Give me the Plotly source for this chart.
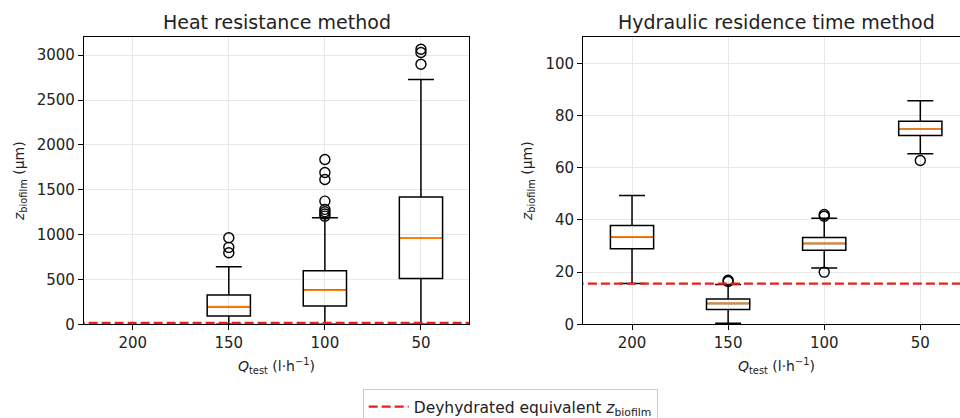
import plotly.graph_objects as go

# ---------------- data ----------------
Q_labels = ["200", "150", "100", "50"]
positions = [1, 2, 3, 4]

# Heat resistance method (µm); Q=200 has no data
heat_q1 = [None, 93, 204, 512]
heat_median = [None, 197, 382, 962]
heat_q3 = [None, 327, 598, 1418]
heat_lower = [None, 0, 0, 0]
heat_upper = [None, 642, 1188, 2729]
heat_outliers = [
    [],
    [965, 858, 798],
    [1838, 1693, 1615, 1373, 1281, 1254, 1229, 1206],
    [3067, 3030, 2900],
]

# Hydraulic residence time method (µm)
hrt_q1 = [29.0, 5.7, 28.4, 72.4]
hrt_median = [33.5, 8.0, 31.0, 74.8]
hrt_q3 = [37.9, 9.7, 33.3, 77.8]
hrt_lower = [15.6, 0.4, 21.6, 65.4]
hrt_upper = [49.4, 15.3, 40.6, 85.7]
hrt_outliers = [
    [],
    [16.9, 16.4],
    [42.1, 41.4, 20.0],
    [62.8],
]

dehydrated_z = 15.6

# ---------------- styling ----------------
FONT = "DejaVu Sans"
BOX_W = 0.45
W, H = 960, 418

def px_x(p):
    return p / W

def px_y(p):
    return 1 - p / H

fig = go.Figure()

def add_boxes(q1, med, q3, lo, hi, outs, xa, ya):
    for i, pos in enumerate(positions):
        if q1[i] is None:
            continue
        fig.add_trace(go.Box(
            x=[pos], q1=[q1[i]], median=[med[i]], q3=[q3[i]],
            lowerfence=[lo[i]], upperfence=[hi[i]],
            width=BOX_W, whiskerwidth=0.6,
            line=dict(color="black", width=1.5),
            fillcolor="rgba(0,0,0,0)", boxpoints=False,
            showlegend=False, hoverinfo="skip", xaxis=xa, yaxis=ya,
        ))
        fig.add_trace(go.Scatter(
            x=[pos - BOX_W / 2 + 0.01, pos + BOX_W / 2 - 0.01],
            y=[med[i], med[i]], mode="lines",
            line=dict(color="#ff7f0e", width=1.8),
            showlegend=False, hoverinfo="skip", xaxis=xa, yaxis=ya,
        ))
        if outs[i]:
            fig.add_trace(go.Scatter(
                x=[pos] * len(outs[i]), y=outs[i], mode="markers",
                marker=dict(symbol="circle-open", size=10, color="black",
                            line=dict(width=1.4, color="black")),
                showlegend=False, hoverinfo="skip", xaxis=xa, yaxis=ya,
            ))

add_boxes(heat_q1, heat_median, heat_q3, heat_lower, heat_upper, heat_outliers, "x", "y")
add_boxes(hrt_q1, hrt_median, hrt_q3, hrt_lower, hrt_upper, hrt_outliers, "x2", "y2")

dash = "9px,4px"
fig.add_trace(go.Scatter(
    x=[0, 5], y=[dehydrated_z, dehydrated_z], mode="lines",
    line=dict(color="#ee1c1c", width=2.4, dash=dash),
    name="Deyhydrated equivalent <i>z</i><sub>biofilm</sub>",
    showlegend=True, hoverinfo="skip", xaxis="x", yaxis="y",
))
fig.add_trace(go.Scatter(
    x=[0, 5], y=[dehydrated_z, dehydrated_z], mode="lines",
    line=dict(color="#ee1c1c", width=2.4, dash=dash),
    showlegend=False, hoverinfo="skip", xaxis="x2", yaxis="y2",
))

axis_common = dict(
    showline=True, linecolor="black", linewidth=1.3,
    ticks="outside", ticklen=5, tickwidth=1.2, tickcolor="black",
    showgrid=True, gridcolor="#e8e8e8", gridwidth=1,
    zeroline=False, tickfont=dict(family=FONT, size=15, color="#222222"),
)

y_dom = [px_y(324.3), px_y(37.3)]

fig.update_layout(
    width=W, height=H, margin=dict(l=0, r=0, t=0, b=0, autoexpand=False),
    paper_bgcolor="white", plot_bgcolor="white",
    font=dict(family=FONT, color="#222222"),
    xaxis=dict(domain=[px_x(84), px_x(469)], range=[0.493, 4.5],
               tickvals=positions, ticktext=Q_labels, mirror=True,
               anchor="y", **axis_common),
    yaxis=dict(domain=y_dom, range=[0, 3200], tickvals=[0, 500, 1000, 1500, 2000, 2500, 3000],
               mirror=True, anchor="x", **axis_common),
    xaxis2=dict(domain=[px_x(583.3), 1.0], range=[0.493, 4.413],
                tickvals=positions, ticktext=Q_labels, mirror=True,
                anchor="y2", **axis_common),
    yaxis2=dict(domain=y_dom, range=[0, 110], tickvals=[0, 20, 40, 60, 80, 100],
                mirror=False, anchor="x2", **axis_common),
    showlegend=True,
    legend=dict(x=px_x(362.7), y=px_y(389), xanchor="left", yanchor="top",
                bordercolor="#cccccc", borderwidth=1, bgcolor="white",
                font=dict(family=FONT, size=15.5, color="#222222"),
                itemwidth=40),
)

ann = []
ann.append(dict(text="Heat resistance method", x=px_x(276.5), y=px_y(21.5),
                xref="paper", yref="paper", showarrow=False, xanchor="center", yanchor="middle",
                font=dict(family=FONT, size=19, color="#222222")))
ann.append(dict(text="Hydraulic residence time method", x=px_x(776), y=px_y(21.5),
                xref="paper", yref="paper", showarrow=False, xanchor="center", yanchor="middle",
                font=dict(family=FONT, size=19, color="#222222")))
xlab = "<i>Q</i><sub>test</sub> (l·h<sup>−1</sup>)"
for cx in (276.5, 776.5):
    ann.append(dict(text=xlab, x=px_x(cx), y=px_y(366), xref="paper", yref="paper",
                    showarrow=False, xanchor="center", yanchor="middle",
                    font=dict(family=FONT, size=14, color="#222222")))
ylab = "<i>z</i><sub>biofilm</sub> (µm)"
for cx in (20, 528):
    ann.append(dict(text=ylab, x=px_x(cx), y=px_y(181), xref="paper", yref="paper",
                    showarrow=False, xanchor="center", yanchor="middle", textangle=-90,
                    font=dict(family=FONT, size=14, color="#222222")))
fig.update_layout(annotations=ann)

fig.write_html("out.html")
